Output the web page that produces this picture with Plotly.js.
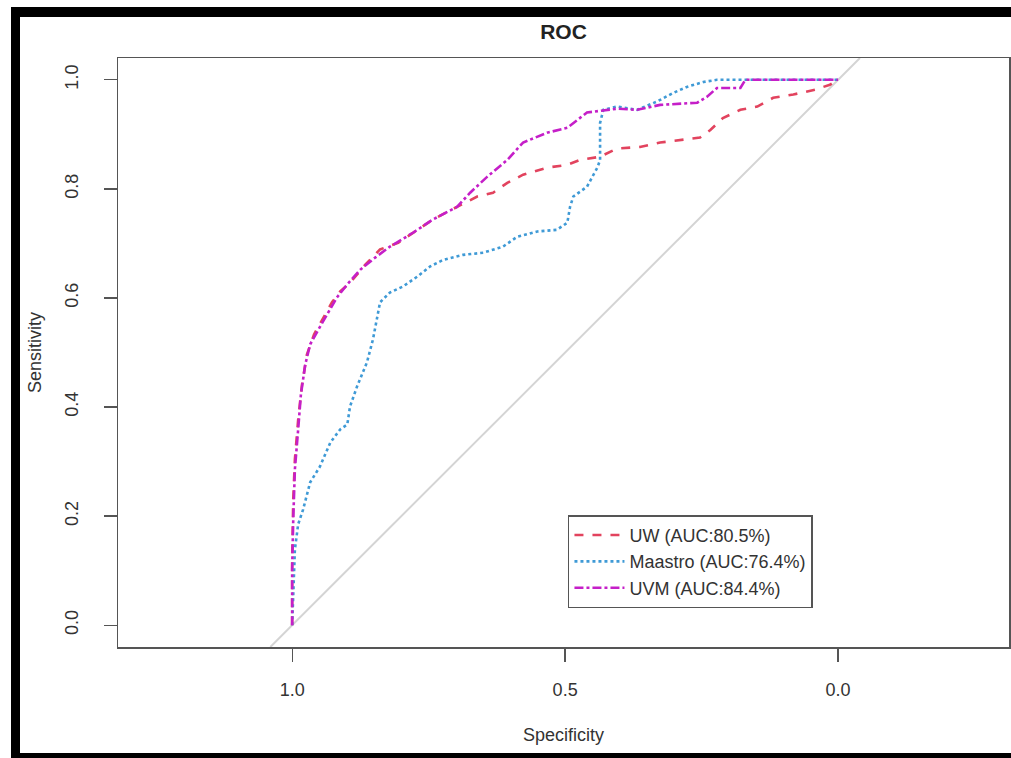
<!DOCTYPE html>
<html>
<head>
<meta charset="utf-8">
<script src="https://cdn.plot.ly/plotly-3.0.1.min.js"></script>
<style>
  html, body { margin: 0; padding: 0; background: #ffffff; }
  #wrap { position: relative; width: 1011px; height: 758px; overflow: hidden; }
  #chart { position: absolute; left: 0; top: 0; width: 1011px; height: 758px; }
  #frame { position: absolute; left: 11px; top: 7px; width: 1000px; height: 751px;
           box-sizing: border-box; border-top: 10px solid #000; border-left: 9px solid #000;
           border-bottom: 5px solid #000; pointer-events: none; }
</style>
</head>
<body>
<div id="wrap">
  <div id="chart"></div>
  <div id="frame"></div>
</div>
<script>
// ---- data ----
const seriesNames = ["UW (AUC:80.5%)", "Maastro (AUC:76.4%)", "UVM (AUC:84.4%)"];

const uwSpec = [1.0, 1.0, 0.998, 0.995, 0.989, 0.982, 0.973, 0.960, 0.945, 0.927, 0.912, 0.894, 0.866, 0.839, 0.806, 0.778, 0.742, 0.698, 0.661, 0.632, 0.606, 0.577, 0.533, 0.496, 0.473, 0.436, 0.405, 0.363, 0.326, 0.253, 0.234, 0.211, 0.179, 0.148, 0.119, 0.082, 0.042, 0.015, 0.0];
const uwSens = [0.0, 0.121, 0.231, 0.304, 0.377, 0.441, 0.496, 0.533, 0.560, 0.592, 0.612, 0.628, 0.661, 0.689, 0.701, 0.720, 0.744, 0.767, 0.786, 0.793, 0.811, 0.826, 0.839, 0.844, 0.853, 0.859, 0.874, 0.877, 0.885, 0.894, 0.908, 0.930, 0.945, 0.951, 0.967, 0.973, 0.982, 0.991, 1.0];

const maSpec = [1.0, 0.998, 0.995, 0.989, 0.980, 0.967, 0.949, 0.930, 0.912, 0.899, 0.894, 0.881, 0.863, 0.852, 0.839, 0.821, 0.797, 0.771, 0.747, 0.723, 0.687, 0.650, 0.614, 0.588, 0.551, 0.515, 0.496, 0.491, 0.485, 0.460, 0.441, 0.436, 0.436, 0.430, 0.405, 0.368, 0.332, 0.302, 0.277, 0.247, 0.222, 0.0];
const maSens = [0.0, 0.066, 0.139, 0.185, 0.212, 0.262, 0.291, 0.335, 0.359, 0.368, 0.401, 0.438, 0.482, 0.524, 0.592, 0.610, 0.621, 0.639, 0.658, 0.670, 0.679, 0.683, 0.694, 0.712, 0.722, 0.725, 0.738, 0.767, 0.786, 0.804, 0.839, 0.853, 0.921, 0.945, 0.951, 0.945, 0.960, 0.976, 0.987, 0.996, 1.0, 1.0];

const uvmSpec = [1.0, 1.0, 0.998, 0.995, 0.989, 0.984, 0.976, 0.967, 0.952, 0.934, 0.918, 0.899, 0.875, 0.848, 0.821, 0.778, 0.742, 0.698, 0.674, 0.643, 0.606, 0.577, 0.533, 0.496, 0.460, 0.405, 0.368, 0.326, 0.258, 0.240, 0.222, 0.179, 0.170, 0.0];
const uvmSens = [0.0, 0.103, 0.194, 0.286, 0.359, 0.423, 0.478, 0.515, 0.542, 0.573, 0.601, 0.625, 0.652, 0.674, 0.694, 0.720, 0.744, 0.767, 0.793, 0.822, 0.853, 0.885, 0.903, 0.912, 0.940, 0.947, 0.945, 0.954, 0.958, 0.969, 0.985, 0.985, 1.0, 1.0];

const xTickVals = [1.0, 0.5, 0.0];
const xTickText = ["1.0", "0.5", "0.0"];
const yTickVals = [0.0, 0.2, 0.4, 0.6, 0.8, 1.0];
const yTickText = ["0.0", "0.2", "0.4", "0.6", "0.8", "1.0"];

const FONT = "Liberation Sans, Arial, sans-serif";

const traces = [
  { x: uwSpec, y: uwSens, name: seriesNames[0], mode: "lines",
    line: { color: "#e2435e", width: 2.6, dash: "dash" } },
  { x: maSpec, y: maSens, name: seriesNames[1], mode: "lines",
    line: { color: "#3f9ad6", width: 2.6, dash: "dot" } },
  { x: uvmSpec, y: uvmSens, name: seriesNames[2], mode: "lines",
    line: { color: "#c51fc8", width: 2.6, dash: "dashdot" } }
];

const layout = {
  width: 1011, height: 758,
  margin: { l: 118, r: 2, t: 58, b: 111 },
  paper_bgcolor: "#ffffff", plot_bgcolor: "#ffffff",
  font: { family: FONT, color: "#333333", size: 17 },
  title: { text: "<b>ROC</b>", font: { family: FONT, size: 21, color: "#222222" },
           x: 0.5, xref: "paper", y: 1 - 32 / 758, yref: "container", yanchor: "middle" },
  xaxis: {
    range: [1.319, -0.313], tickvals: xTickVals, ticktext: xTickText,
    showgrid: false, zeroline: false, showline: true, mirror: true,
    linecolor: "#555555", linewidth: 1.5,
    ticks: "outside", ticklen: 13, tickwidth: 1.3, tickcolor: "#555555",
    tickfont: { size: 18, color: "#333333" }, ticklabelstandoff: 13,
    title: { text: "Specificity", font: { size: 18, color: "#333333" }, standoff: 29 }
  },
  yaxis: {
    range: [-0.04, 1.04], tickvals: yTickVals, ticktext: yTickText,
    showgrid: false, zeroline: false, showline: true, mirror: true,
    linecolor: "#555555", linewidth: 1.5,
    ticks: "outside", ticklen: 13, tickwidth: 1.3, tickcolor: "#555555",
    tickangle: -90,
    tickfont: { size: 18, color: "#333333" }, ticklabelstandoff: 18,
    title: { text: "Sensitivity", font: { size: 18, color: "#333333" }, standoff: 16 }
  },
  shapes: [
    { type: "line", xref: "x", yref: "y", x0: 1.04, y0: -0.04, x1: -0.04, y1: 1.04,
      line: { color: "#d4d4d4", width: 2 }, layer: "below" }
  ],
  legend: {
    x: 0.505, y: 0.2237, xanchor: "left", yanchor: "top",
    bgcolor: "#ffffff", bordercolor: "#555555", borderwidth: 1.5,
    font: { size: 18, color: "#333333" }, tracegroupgap: 0, itemwidth: 50
  },
  showlegend: true
};

Plotly.newPlot("chart", traces, layout, { displayModeBar: false, staticPlot: true });
</script>
</body>
</html>
